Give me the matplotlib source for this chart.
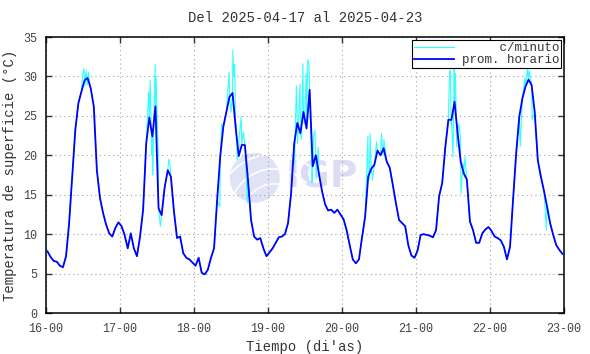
import numpy as np
import matplotlib
matplotlib.use("Agg")
import matplotlib.pyplot as plt
from matplotlib.patches import Ellipse, Arc

# ==========================================
# Data
# ==========================================

tick_labels = ["16-00", "17-00", "18-00", "19-00", "20-00", "21-00", "22-00", "23-00"]

# hourly means, plotted at hh:30
day16 = [7.8, 7.1, 6.6, 6.5, 6.0, 5.8, 7.2, 11.4, 17.3, 23.2, 26.6, 28.1,
         29.5, 29.8, 28.5, 26.2, 18.1, 14.6, 12.7, 11.2, 10.1, 9.7, 10.8, 11.5]
day17 = [11.0, 9.9, 8.2, 10.1, 8.2, 7.2, 9.7, 13.1, 21.5, 24.8, 22.4, 26.2,
         13.3, 12.4, 16.0, 18.1, 17.3, 12.9, 9.5, 9.7, 7.6, 7.0, 6.8, 6.4]
day18 = [6.0, 7.0, 5.1, 4.9, 5.5, 7.0, 8.2, 14.3, 19.8, 23.6, 25.5, 27.4,
         27.9, 23.6, 19.9, 21.3, 21.3, 16.9, 11.8, 9.7, 9.3, 9.5, 8.2, 7.2]
day19 = [7.7, 8.2, 8.9, 9.6, 9.7, 10.0, 11.4, 15.2, 21.5, 24.1, 22.8, 25.5,
         23.4, 28.3, 18.6, 20.0, 17.7, 15.5, 13.8, 13.0, 13.1, 12.7, 13.1, 12.5]
day20 = [11.9, 10.5, 8.6, 6.8, 6.3, 6.8, 9.6, 12.2, 17.3, 18.3, 18.8, 20.6,
         20.0, 20.9, 19.2, 18.4, 16.2, 13.9, 11.8, 11.4, 11.0, 8.6, 7.3, 7.0]
day21 = [7.9, 9.9, 10.0, 9.9, 9.8, 9.6, 10.5, 14.8, 16.5, 21.0, 24.5, 24.5,
         26.8, 22.8, 19.2, 17.7, 16.9, 11.6, 10.5, 8.9, 8.9, 10.1, 10.6, 10.9]
day22 = [10.4, 9.7, 9.5, 9.2, 8.4, 6.8, 8.4, 14.5, 20.3, 24.9, 27.2, 28.7,
         29.6, 28.9, 25.5, 19.4, 17.3, 15.5, 13.5, 11.4, 9.9, 8.6, 8.0, 7.5]

# per-minute excursions away from the hourly mean (hours since 16-00)
spike_t = [0.0,
           11.8, 12.3, 12.6, 13.0, 13.4, 13.8, 14.3,
           32.6, 33.3, 33.8, 34.3, 34.6, 35.1, 35.4, 35.7, 36.4, 37.1, 39.8, 40.2,
           56.4, 57.0, 59.0, 59.4, 60.0, 60.6, 60.9, 61.2, 61.6, 62.0, 62.6, 63.3, 64.0, 65.3,
           80.6, 81.2, 81.6, 82.4, 82.9, 83.3, 83.8, 84.4, 84.9, 85.3, 85.8, 86.3, 86.8, 87.2, 87.6, 88.3,
           104.4, 104.9, 105.1, 105.9, 107.2, 108.8, 109.3, 109.6,
           130.8, 131.1, 131.4, 132.0, 132.4, 132.8, 133.2, 133.9, 134.4, 134.6, 135.3, 135.9,
           153.8, 155.3, 156.1, 156.7, 157.7, 158.7, 160.3, 162.3,
           168.0]
spike_v = [8.4,
           30.0, 31.0, 28.8, 30.8, 29.0, 30.5, 28.6,
           22.5, 28.0, 29.5, 20.0, 17.5, 27.0, 31.5, 30.0, 20.0, 11.0, 19.5, 18.8,
           13.5, 24.0, 28.5, 30.5, 25.5, 33.3, 30.0, 31.5, 24.0, 19.5, 22.0, 24.9, 23.0, 14.0,
           19.0, 28.8, 21.5, 29.0, 22.0, 31.6, 24.0, 30.4, 32.1, 31.6, 24.0, 16.5, 22.5, 23.2, 17.0, 21.0,
           22.4, 17.0, 22.8, 16.9, 21.7, 22.8, 20.0, 22.0,
           29.5, 30.8, 24.0, 19.8, 31.0, 30.4, 21.1, 24.0, 22.4, 15.2, 19.0, 19.8,
           21.1, 29.8, 30.9, 30.8, 24.5, 24.0, 17.3, 10.5,
           7.3]

# ==========================================
# Build series
# ==========================================

hourly = np.array(day16 + day17 + day18 + day19 + day20 + day21 + day22)
t_hour = np.arange(len(hourly)) + 0.5

t_min = np.concatenate([t_hour, spike_t])
v_min = np.concatenate([hourly, spike_v])
order = np.argsort(t_min, kind="stable")
t_min = t_min[order]
v_min = v_min[order]

# ==========================================
# Plot
# ==========================================

plt.rcParams["font.family"] = ["Liberation Mono", "DejaVu Sans Mono"]

fig = plt.figure(figsize=(5.9, 3.54), dpi=100)
ax = fig.add_axes([46 / 590, 1 - 313 / 354, 518 / 590, 276 / 354])

# IGP watermark
ax.add_patch(Ellipse((0.403, 0.49), 0.0965, 0.181, transform=ax.transAxes,
                     facecolor="#E0E2F6", edgecolor="none", zorder=0.5))
for r in [0.06, 0.09, 0.12]:
    ax.add_patch(Arc((0.44, 0.36), r * 1.9, r * 3.6, theta1=60, theta2=170,
                     transform=ax.transAxes, color="white", lw=1.2, zorder=0.6))
ax.text(0.462, 0.49, "IGP", transform=ax.transAxes, ha="left", va="center",
        fontsize=27, fontweight="bold", family="DejaVu Sans",
        color="#DCDCF2", zorder=0.5)

l1, = ax.plot(t_min, v_min, color="#33FFFF", lw=0.8, zorder=2)
l2, = ax.plot(t_hour, hourly, color="#0000FF", lw=1.3, zorder=3)

ax.set_xlim(0, 168)
ax.set_ylim(0, 35)
ax.set_xticks(np.arange(0, 169, 24))
ax.set_xticklabels(tick_labels)
ax.set_yticks(np.arange(0, 36, 5))

ax.grid(True, color="#A0A0A0", linestyle=(0, (1, 3)), lw=0.8)
ax.tick_params(direction="in", length=4.5, width=1, top=True, right=True,
               labelsize=8.5, colors="#333333", labelcolor="#444444")
ax.tick_params(axis="x", pad=7)
ax.tick_params(axis="y", pad=6)
for s in ax.spines.values():
    s.set_linewidth(1.1)
    s.set_color("black")

ax.set_title("Del 2025-04-17 al 2025-04-23", fontsize=10, color="#333333", pad=11)
ax.set_xlabel("Tiempo (di'as)", fontsize=10, color="#333333", labelpad=4)
ax.set_ylabel("Temperatura de superficie (\u00b0C)", fontsize=10, color="#333333", labelpad=5)

leg = ax.legend([l1, l2], ["     c/minuto", "prom. horario"], loc="upper right",
                fontsize=9, frameon=True, fancybox=False, edgecolor="black",
                framealpha=1, handlelength=3.2, handletextpad=0.6,
                borderpad=0.15, labelspacing=0.0, borderaxespad=0.25)
leg.get_frame().set_linewidth(0.8)
for t in leg.get_texts():
    t.set_color("#333333")

fig.savefig("out.png", dpi=100)
